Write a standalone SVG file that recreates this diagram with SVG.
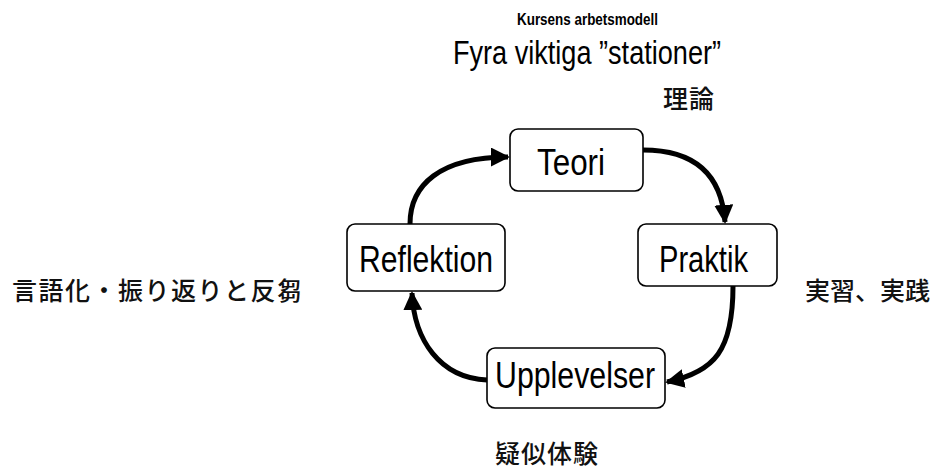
<svg xmlns="http://www.w3.org/2000/svg" width="932" height="470" viewBox="0 0 932 470">
<style>
.box{fill:#fff;stroke:#000;stroke-width:1.6}
.lbl{font-family:"Liberation Sans",Arial,sans-serif;font-size:36px;fill:#000}
.jp{font-family:"Noto Sans CJK JP","Noto Sans CJK SC",sans-serif;font-size:25px;font-weight:500;fill:#111}
.conn{fill:none;stroke:#000;stroke-width:5}
</style>
<defs>
<marker id="ah" viewBox="0 0 10 10" refX="9" refY="5" markerWidth="3.8" markerHeight="3.8" orient="auto" markerUnits="strokeWidth">
<path d="M0,0 L10,5 L0,10 Z" fill="#000"/>
</marker>
</defs>
<rect width="932" height="470" fill="#fff"/>
<g id="title">
<text x="517" y="25" font-family="Liberation Sans,Arial,sans-serif" font-weight="bold" font-size="17" textLength="141" lengthAdjust="spacingAndGlyphs">Kursens arbetsmodell</text>
<text x="453" y="64" font-family="Liberation Sans,Arial,sans-serif" font-size="33" textLength="268" lengthAdjust="spacingAndGlyphs">Fyra viktiga ”stationer”</text>
</g>
<g id="connectors">
<path class="conn" d="M410,224 C410,185 440,157 508,157" marker-end="url(#ah)"/>
<path class="conn" d="M643,150 C700,150 722,180 725,222" marker-end="url(#ah)"/>
<path class="conn" d="M733,286 C733,350 715,372 667,382" marker-end="url(#ah)"/>
<path class="conn" d="M487,380 C440,378 414,340 412,293" marker-end="url(#ah)"/>
</g>
<g id="teori">
<rect class="box" x="510" y="129" width="133" height="62" rx="8"/>
<text class="lbl" x="537" y="175" textLength="68" lengthAdjust="spacingAndGlyphs">Teori</text>
</g>
<g id="praktik">
<rect class="box" x="638" y="224" width="139" height="62" rx="8"/>
<text class="lbl" x="659" y="272" textLength="89" lengthAdjust="spacingAndGlyphs">Praktik</text>
</g>
<g id="reflektion">
<rect class="box" x="347" y="224" width="158" height="67" rx="8"/>
<text class="lbl" x="359" y="272" textLength="134" lengthAdjust="spacingAndGlyphs">Reflektion</text>
</g>
<g id="upplevelser">
<rect class="box" x="487" y="348" width="178" height="60" rx="8"/>
<text class="lbl" x="495" y="388" font-size="35" textLength="160" lengthAdjust="spacingAndGlyphs">Upplevelser</text>
</g>
<g id="labels">
<text class="jp" x="663" y="108" font-size="24" letter-spacing="1">理論</text>
<text class="jp" x="12" y="300" letter-spacing="1.5">言語化・振り返りと反芻</text>
<text class="jp" x="805" y="300" font-size="24">実習、実践</text>
<text class="jp" x="495" y="463" letter-spacing="1">疑似体験</text>
</g>
</svg>
